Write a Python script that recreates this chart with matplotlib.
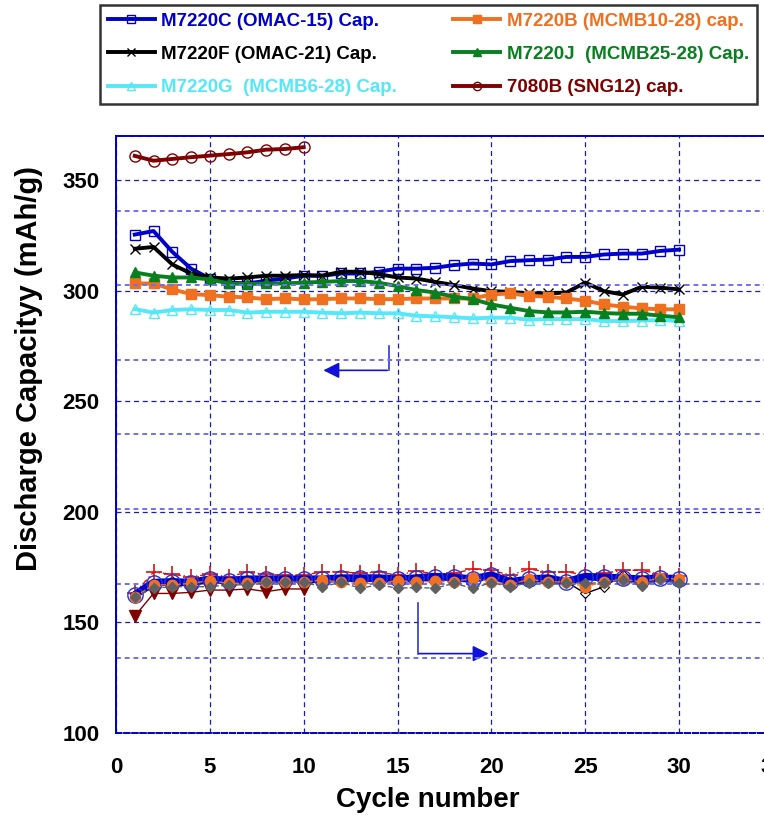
import matplotlib
matplotlib.use('Agg')
import matplotlib.pyplot as plt

plt.rcParams['font.family'] = ['Liberation Sans', 'DejaVu Sans']
plt.rcParams['font.weight'] = 'bold'

cycles = list(range(1, 31))
sng_cycles = list(range(1, 11))

# discharge capacity (mAh/g), left axis
cap_7220c = [325.4, 327.0, 317.6, 310.0, 305.5, 303.7, 303.3, 304.5, 305.5, 306.8,
             306.8, 307.8, 307.8, 308.6, 310.0, 310.0, 310.4, 311.6, 312.3, 311.9,
             313.4, 313.8, 314.1, 315.3, 315.3, 316.4, 316.8, 316.8, 318.0, 318.6]
cap_7220f = [319.0, 319.8, 311.9, 307.8, 306.0, 305.5, 306.0, 306.8, 306.8, 307.1,
             306.8, 308.6, 308.6, 307.5, 306.0, 305.5, 304.0, 302.6, 301.0, 299.8,
             299.5, 298.8, 298.8, 299.2, 303.7, 299.8, 298.3, 301.8, 301.4, 300.6]
cap_7220g = [291.7, 290.1, 291.3, 291.6, 291.3, 291.3, 290.1, 290.5, 290.5, 290.5,
             290.1, 289.8, 290.1, 289.8, 289.8, 288.7, 288.4, 288.0, 287.5, 287.8,
             287.8, 286.9, 287.2, 287.2, 287.2, 286.3, 286.3, 286.5, 286.8, 286.3]
cap_7220b = [303.3, 303.3, 300.6, 298.5, 298.0, 297.3, 297.0, 296.2, 296.5, 296.1,
             296.2, 296.5, 296.5, 296.2, 296.2, 296.5, 296.5, 296.5, 296.5, 298.3,
             298.8, 297.7, 297.3, 296.5, 295.5, 293.8, 292.8, 292.0, 291.6, 291.6]
cap_7220j = [308.3, 306.8, 306.0, 306.0, 305.1, 303.3, 303.0, 303.3, 303.3, 303.7,
             304.0, 304.4, 304.4, 303.6, 302.1, 300.3, 299.2, 297.3, 296.2, 293.8,
             292.3, 290.8, 290.2, 290.2, 290.5, 289.9, 289.6, 289.6, 288.7, 288.0]
cap_7080b = [361.0, 358.8, 359.6, 360.4, 361.1, 361.8, 362.6, 363.8, 364.1, 364.9]

# second set of curves, right axis (labels cut off in the original)
eff_7220c = [37.0, 40.3, 40.5, 40.3, 41.2, 40.8, 41.2, 41.2, 41.2, 41.2,
             41.2, 41.5, 41.5, 41.5, 41.2, 41.5, 41.9, 41.7, 41.2, 42.3,
             40.5, 41.2, 41.5, 40.5, 41.9, 41.7, 41.5, 41.2, 41.5, 41.2]
eff_7220f = [37.0, 40.0, 40.6, 40.3, 41.0, 40.8, 41.0, 41.0, 41.0, 41.0,
             41.0, 41.3, 41.3, 41.3, 41.0, 41.3, 41.6, 41.5, 41.0, 42.0,
             40.6, 41.0, 41.3, 40.5, 37.4, 39.2, 42.3, 41.0, 41.5, 41.0]
eff_7220b = [36.5, 39.7, 39.7, 40.1, 40.8, 40.1, 40.1, 40.4, 40.4, 40.4,
             41.0, 40.4, 40.1, 40.1, 40.8, 40.5, 40.6, 40.5, 41.5, 40.5,
             39.7, 41.2, 40.5, 40.5, 39.2, 40.5, 41.2, 40.5, 41.5, 41.2]
eff_7220j = [36.5, 38.8, 39.2, 39.2, 39.2, 39.7, 39.7, 40.4, 40.4, 40.4,
             39.2, 40.4, 38.8, 39.7, 38.8, 39.0, 38.8, 40.1, 38.8, 40.3,
             39.2, 40.3, 40.1, 40.3, 40.1, 40.3, 41.0, 39.4, 41.2, 40.1]
eff_7220g = [37.5, 43.1, 42.5, 41.9, 42.5, 41.9, 43.1, 42.5, 42.3, 42.3,
             43.2, 43.2, 42.8, 43.1, 42.3, 43.4, 42.6, 42.8, 43.9, 43.6,
             42.3, 43.9, 43.2, 43.2, 42.3, 42.8, 43.6, 43.6, 42.6, 42.0]
eff_7080b = [31.3, 37.4, 37.4, 37.7, 38.3, 38.3, 38.6, 37.9, 38.6, 38.6]

labels = ['M7220C (OMAC-15) Cap.', 'M7220F (OMAC-21) Cap.', 'M7220G  (MCMB6-28) Cap.',
          'M7220B (MCMB10-28) cap.', 'M7220J  (MCMB25-28) Cap.', '7080B (SNG12) cap.']
colors = ['#0000cc', '#000000', '#55e8fa', '#f07020', '#088020', '#800000']

fig = plt.figure(figsize=(7.64, 8.21), dpi=100)
ax = fig.add_axes([0.1518, 0.1072, 0.8599, 0.7272])
ax2 = ax.twinx()

grid_dark = dict(color='#1a1acc', lw=0.9, ls=(0, (4, 3)))
grid_light = dict(color='#7070ee', lw=1.4, ls=(0, (2.5, 2)))

ax.set_xlim(0, 35)
ax.set_ylim(100, 370)
ax.set_xticks(range(0, 36, 5))
ax.set_yticks(range(100, 351, 50))
ax.grid(True, **grid_dark)
ax.set_axisbelow(True)

ax2.set_ylim(0, 160)
ax2.set_yticks(range(0, 161, 20))
ax2.yaxis.grid(True, **grid_light)
ax2.set_yticklabels([])
ax2.tick_params(length=0)

for a in (ax, ax2):
    for s in a.spines.values():
        s.set_color('#0000cc')
        s.set_linewidth(1.3)
    a.spines['bottom'].set_linestyle((0, (3, 1.5)))

ax.tick_params(length=0, labelsize=16, pad=12)
ax.tick_params(axis='x', pad=17)
for t in ax.get_xticklabels() + ax.get_yticklabels():
    t.set_fontweight('bold')

# capacity curves
h = []
h += ax.plot(cycles, cap_7220c, color=colors[0], lw=2.8, marker='s', mfc='none', mec=colors[0], ms=7, mew=1)
h += ax.plot(cycles, cap_7220f, color=colors[1], lw=2.8, marker='x', ms=7, mew=1)
h += ax.plot(cycles, cap_7220g, color=colors[2], lw=2.8, marker='^', mfc='none', mec=colors[2], ms=7, mew=1)
h += ax.plot(cycles, cap_7220b, color=colors[3], lw=2.8, marker='s', ms=7)
h += ax.plot(cycles, cap_7220j, color=colors[4], lw=2.8, marker='^', ms=7)
h += ax.plot(sng_cycles, cap_7080b, color=colors[5], lw=2.8, marker='o', mfc='none', mec=colors[5], ms=8, mew=1)

# lower group, right axis
ax2.plot(cycles, eff_7220c, color='#0000cc', lw=5.5, marker='o', mfc='none', mec='#2233dd', ms=11, mew=1, zorder=3)
ax2.plot(cycles, eff_7220f, color='black', lw=1, marker='D', mfc='none', mec='black', ms=5, mew=0.8, zorder=2)
ax2.plot(cycles, eff_7220g, color='#dd1111', lw=1, ls=(0, (4, 2, 1, 2)), marker='+', ms=11, mew=1.2, zorder=2)
ax2.plot(sng_cycles, eff_7080b, color='#800000', lw=1, marker='v', ms=8, zorder=2)
ax2.plot(cycles, eff_7220b, color='#f07020', lw=1, ls='--', marker='o', ms=7.5, zorder=4)
ax2.plot(cycles, eff_7220j, color='#606060', lw=1, ls='--', marker='D', ms=5.5, zorder=5)

# arrows showing which axis each group belongs to
ax.plot([14.55, 14.55], [275, 264], color='#3333dd', lw=1.2)
ax.annotate('', xy=(10.9, 264), xytext=(14.6, 264),
            arrowprops=dict(arrowstyle='-|>', color='#1111dd', lw=1.2, mutation_scale=24))
ax.plot([16.07, 16.07], [159, 135.9], color='#3333dd', lw=1.2)
ax.annotate('', xy=(20.0, 135.9), xytext=(16.0, 135.9),
            arrowprops=dict(arrowstyle='-|>', color='#1111dd', lw=1.2, mutation_scale=24))

ax.set_xlabel('Cycle number', fontsize=20, fontweight='bold')
ax.set_ylabel('Discharge Capacityy (mAh/g)', fontsize=21, fontweight='bold')
ax.xaxis.set_label_coords((428 - 116) / 657, -0.09)
ax.yaxis.set_label_coords(-0.111, 0.61)

leg = fig.legend(h, labels, ncol=2, loc='upper left', bbox_to_anchor=(100 / 764, 1 - 5 / 821),
                 fontsize=13.5, frameon=True, fancybox=False, handlelength=2.5, handletextpad=0.35,
                 columnspacing=3.0, labelspacing=0.85, borderpad=0.42, borderaxespad=0)
leg.get_frame().set_edgecolor('black')
leg.get_frame().set_linewidth(1.8)
for t, c in zip(leg.get_texts(), colors):
    t.set_color(c)
    t.set_fontweight('bold')
for lh in leg.legend_handles:
    lh.set_markersize(6)

fig.savefig('out.png', dpi=100)
